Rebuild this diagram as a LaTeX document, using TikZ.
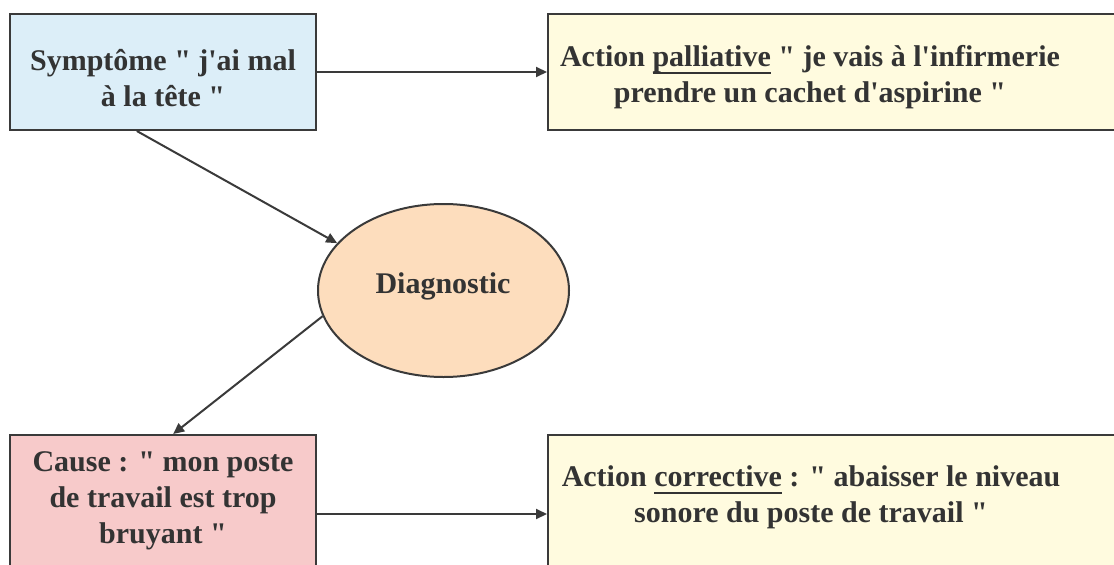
\documentclass[tikz,border=0pt]{standalone}
\usepackage{fontspec}
\setmainfont{Liberation Serif}[Ligatures=TeXOff]
\usetikzlibrary{shapes.geometric,arrows.meta,calc}
\definecolor{edgegray}{HTML}{3A3A3A}
\definecolor{txtgray}{HTML}{333333}
\definecolor{bluefill}{HTML}{DCEEF8}
\definecolor{yellowfill}{HTML}{FFFBDF}
\definecolor{pinkfill}{HTML}{F7CACA}
\definecolor{orangefill}{HTML}{FDDDBD}
\newcommand\myul[1]{\setbox0\hbox{#1}\rlap{\color{txtgray}\rule[-8pt]{\wd0}{2.6pt}}\box0\relax}
\tikzset{
  boxshape/.style={draw=edgegray, line width=2pt, rectangle, inner sep=0pt},
  lbl/.style={text=txtgray, align=center, inner sep=0pt,
    font=\fontsize{30}{36}\selectfont\bfseries},
  arr/.style={draw=edgegray, line width=2pt, -{Triangle[length=11pt,width=10pt]}},
}
\begin{document}
\begin{tikzpicture}[x=1pt,y=-1pt]
\useasboundingbox (0,0) rectangle (1114,565);
\clip (0,0) rectangle (1114,565);
% boxes
\node[boxshape, fill=bluefill, minimum width=306pt, minimum height=116pt] (sym) at (163,72) {};
\node[boxshape, fill=yellowfill, minimum width=582pt, minimum height=116pt] (pal) at (839,72) {};
\node[boxshape, fill=pinkfill, minimum width=306pt, minimum height=158pt] (cause) at (163,514) {};
\node[boxshape, fill=yellowfill, minimum width=582pt, minimum height=158pt] (cor) at (839,514) {};
\node[draw=edgegray, line width=2pt, fill=orangefill, ellipse, minimum width=251pt, minimum height=173pt, inner sep=0pt] (diag) at (443.5,290.5) {};
% texts
\node[lbl] (symtxt) at (163,78) {Symptôme " j'ai mal\\à la tête "};
\node[lbl] (paltxt) at (810,77) {Action \myul{palliative} " je vais à l'infirmerie\\prendre un cachet d'aspirine "};
\node[lbl] (causetxt) at (163,501) {Cause : " mon poste\\de travail est trop\\bruyant "};
\node[lbl] (cortxt) at (811,497) {Action \myul{corrective} : " abaisser le niveau\\sonore du poste de travail "};
\node[lbl] (diagtxt) at (443,286) {Diagnostic};
% connectors
\draw[arr] (sym.east) -- (pal.west);
\draw[arr] (cause.east) -- (cor.west);
\draw[arr] ($(sym.south west)!0.415!(sym.south east)$) -- (diag.156);
\draw[arr] (diag.192) -- ($(cause.north west)!0.533!(cause.north east)$);
\end{tikzpicture}
\end{document}
